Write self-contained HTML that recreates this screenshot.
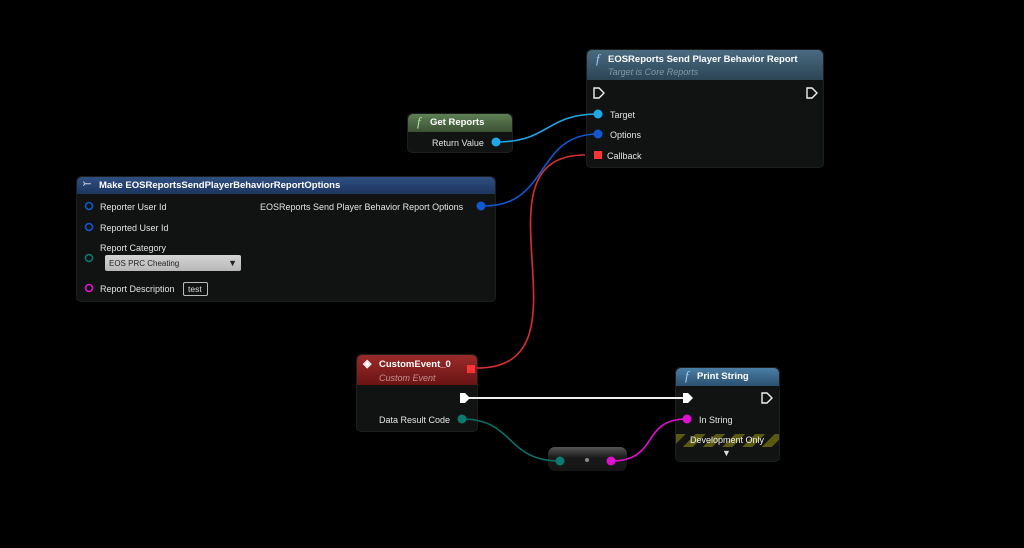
<!DOCTYPE html>
<html><head><meta charset="utf-8"><style>
*{margin:0;padding:0;box-sizing:border-box}
body{width:1024px;height:548px;background:#000;position:relative;overflow:hidden;font-family:"Liberation Sans",sans-serif;color:#ddd;font-size:9px}
.n{position:absolute;background:rgba(18,20,20,0.96);border-radius:5px;border:1px solid #1c1e1e}
.h{position:absolute;left:0;right:0;top:0;border-radius:5px 5px 0 0;color:#fff;font-weight:bold;font-size:9.5px;padding-left:20px}
.t{position:absolute;white-space:nowrap;font-size:9px;color:#e4e4e4}
.f{position:absolute;font-family:"Liberation Serif",serif;font-style:italic;color:#9fd0ff;font-size:13px;font-weight:normal}
.sub{position:absolute;font-style:italic;font-weight:normal;font-size:9px}
svg{position:absolute;left:0;top:0}
</style></head><body>

<div class="n" style="left:586px;top:49px;width:238px;height:119px">
 <div class="h" style="height:30px;background:linear-gradient(#4a6a80,#2c4556)"><span class="f" style="left:9px;top:1px">f</span><span style="position:absolute;left:21px;top:4px">EOSReports Send Player Behavior Report</span><span class="sub" style="left:21px;top:17px;color:#7f98a6">Target is Core Reports</span></div>
 <span class="t" style="left:23px;top:60px">Target</span>
 <span class="t" style="left:23px;top:80px">Options</span>
 <span class="t" style="left:20px;top:101px">Callback</span>
</div>

<div class="n" style="left:407px;top:113px;width:106px;height:40px">
 <div class="h" style="height:18px;background:linear-gradient(#5f7f55,#3a5234)"><span class="f" style="left:9px;top:0px;color:#b8e0a0">f</span><span style="position:absolute;left:22px;top:3px">Get Reports</span></div>
 <span class="t" style="left:24px;top:24px">Return Value</span>
</div>

<div class="n" style="left:76px;top:176px;width:420px;height:126px">
 <div class="h" style="height:17px;background:linear-gradient(#2f4f82,#1d355e)"><span style="position:absolute;left:6px;top:1px;font-size:10px;color:#ccd">⤚</span><span style="position:absolute;left:22px;top:3px">Make EOSReportsSendPlayerBehaviorReportOptions</span></div>
 <span class="t" style="left:23px;top:25px">Reporter User Id</span>
 <span class="t" style="left:183px;top:25px">EOSReports Send Player Behavior Report Options</span>
 <span class="t" style="left:23px;top:46px">Reported User Id</span>
 <span class="t" style="left:23px;top:66px">Report Category</span>
 <div style="position:absolute;left:28px;top:78px;width:136px;height:16px;background:linear-gradient(#d4d4d4,#b8b8b8);border-radius:2px;color:#222;font-size:8px;padding:4px 0 0 4px">EOS PRC Cheating<span style="position:absolute;right:4px;top:3px;font-size:9px">▼</span></div>
 <span class="t" style="left:23px;top:107px">Report Description</span>
 <div style="position:absolute;left:106px;top:105px;width:25px;height:14px;border:1px solid #bbb;border-radius:2px;font-size:8.5px;padding:1px 0 0 4px">test</div>
</div>

<div class="n" style="left:356px;top:354px;width:122px;height:78px">
 <div class="h" style="height:30px;background:linear-gradient(#9a2a2a,#6a1414)"><span style="position:absolute;left:6px;top:2px;font-size:11px">◈</span><span style="position:absolute;left:22px;top:4px">CustomEvent_0</span><span class="sub" style="left:22px;top:18px;color:#c89090">Custom Event</span>
 <div style="position:absolute;left:110px;top:10px;width:8px;height:8px;background:#f33"></div></div>
 <span class="t" style="left:22px;top:60px">Data Result Code</span>
</div>

<div class="n" style="left:675px;top:367px;width:105px;height:95px">
 <div class="h" style="height:18px;background:linear-gradient(#4a7ea4,#2a5070)"><span class="f" style="left:9px;top:0px">f</span><span style="position:absolute;left:21px;top:3px">Print String</span></div>
 <span class="t" style="left:23px;top:47px">In String</span>
 <div style="position:absolute;left:0;right:0;top:66px;height:13px;background:repeating-linear-gradient(135deg,#5a5a10 0 7px,#141414 7px 14px)"></div>
 <span class="t" style="left:14px;top:67px;color:#eee">Development Only</span>
 <span class="t" style="left:46px;top:80px;font-size:9px;color:#ddd">▼</span>
</div>

<div style="position:absolute;left:548px;top:447px;width:79px;height:24px;background:linear-gradient(#555,#1a1a1a 45%,#141414);border-radius:7px"></div>

<svg width="1024" height="548">
 <g fill="none" stroke-width="1.6">
  <path d="M496,142 C550,142 545,114 598,114" stroke="#1fa8e8"/>
  <path d="M484,206 C550,206 535,134 598,134" stroke="#1058d0"/>
  <path d="M477,368 C600,368 465,155 585,155" stroke="#d83030"/>
  <path d="M464,398 L687,398" stroke="#eee" stroke-width="2"/>
  <path d="M462,419 C515,419 505,461 560,461" stroke="#0c6f66"/>
  <path d="M611,461 C660,461 640,419 687,419" stroke="#e010d0"/>
 </g>
 <g fill="none" stroke="#eee" stroke-width="1.4">
  <path d="M594,88 h5 l5,5 l-5,5 h-5 z"/>
  <path d="M807,88 h5 l5,5 l-5,5 h-5 z"/>
  <path d="M762,393 h5 l5,5 l-5,5 h-5 z"/>
 </g>
 <g fill="#fff">
  <path d="M460,393 h5 l5,5 l-5,5 h-5 z"/>
  <path d="M683,393 h5 l5,5 l-5,5 h-5 z"/>
 </g>
 <circle cx="598" cy="114" r="4.5" fill="#1fa8e8"/>
 <circle cx="598" cy="134" r="4.5" fill="#1058d0"/>
 <rect x="594" y="151" width="8" height="8" fill="#f33"/>
 <circle cx="496" cy="142" r="4.5" fill="#1fa8e8"/>
 <circle cx="481" cy="206" r="4.5" fill="#1058d0"/>
 <g fill="none" stroke-width="1.6">
  <circle cx="89" cy="206" r="3.5" stroke="#1058d0"/>
  <circle cx="89" cy="227" r="3.5" stroke="#1058d0"/>
  <circle cx="89" cy="258" r="3.5" stroke="#0c7a70"/>
  <circle cx="89" cy="288" r="3.5" stroke="#e010d0"/>
 </g>
 <circle cx="462" cy="419" r="4.5" fill="#0c7a70"/>
 <circle cx="687" cy="419" r="4.5" fill="#e010d0"/>
 <circle cx="560" cy="461" r="4.5" fill="#0c7a70"/>
 <circle cx="587" cy="460" r="2" fill="#888"/>
 <circle cx="611" cy="461" r="4.5" fill="#e010d0"/>
</svg>
</body></html>
